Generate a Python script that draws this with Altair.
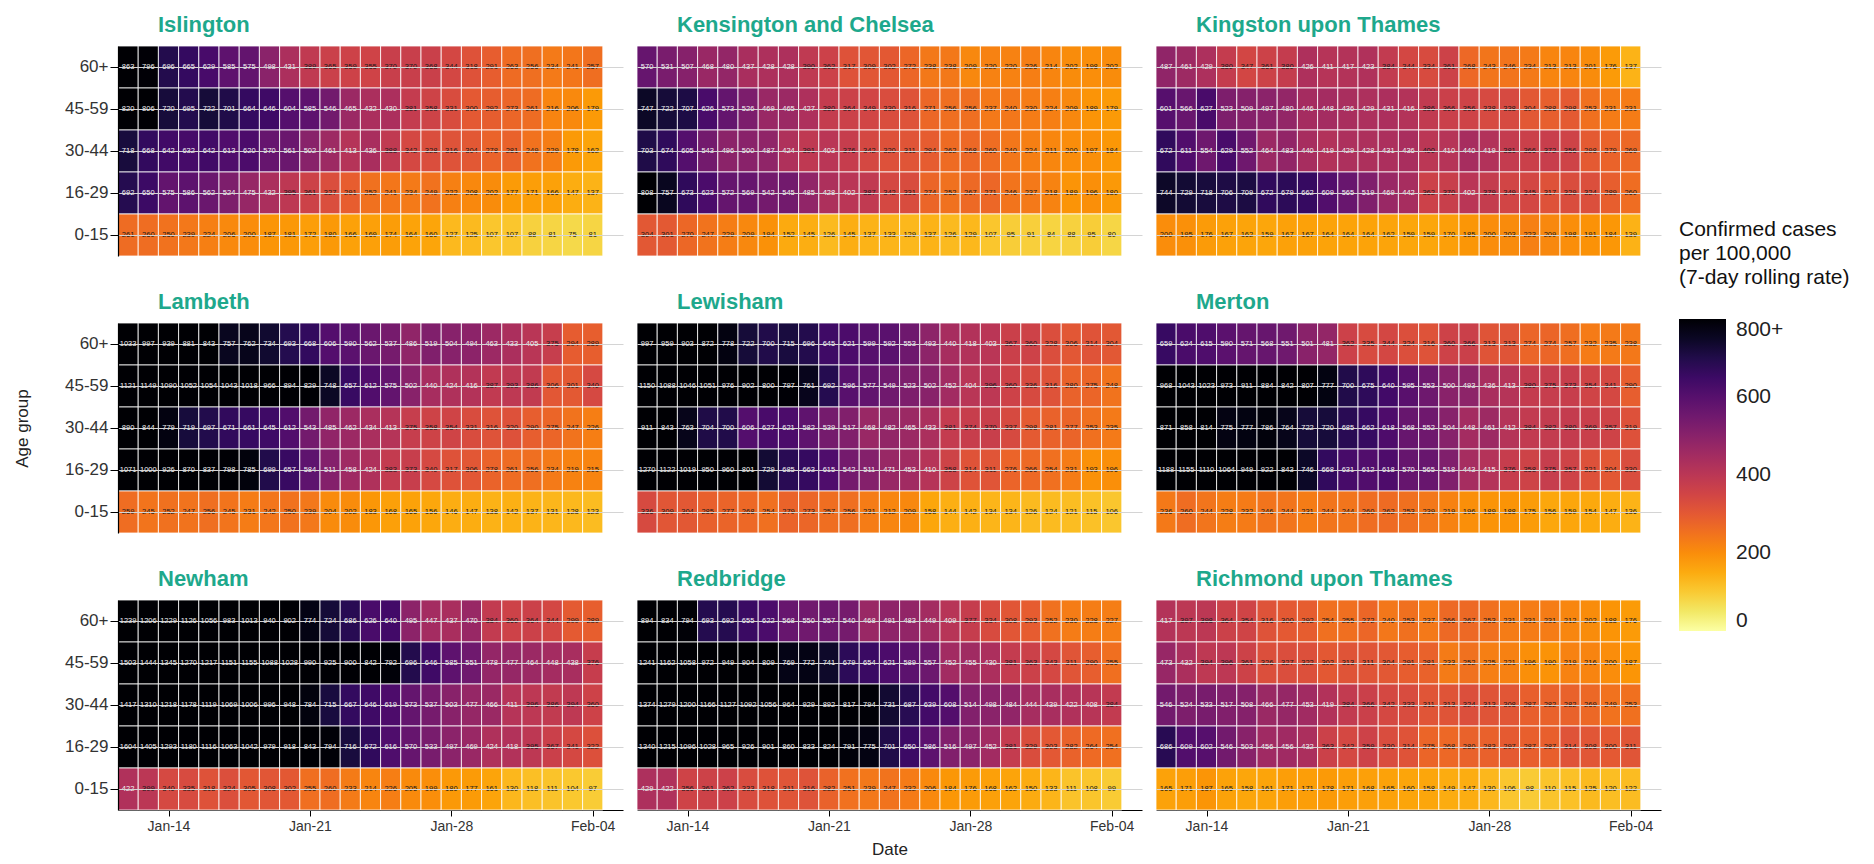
import altair as alt
import pandas as pd

AGES = ["60+", "45-59", "30-44", "16-29", "0-15"]
BOROUGHS = ["Islington", "Kensington and Chelsea", "Kingston upon Thames",
            "Lambeth", "Lewisham", "Merton",
            "Newham", "Redbridge", "Richmond upon Thames"]
DATES = pd.date_range("2021-01-12", "2021-02-04", freq="D")
TICKS = [(2021, 1, 14), (2021, 1, 21), (2021, 1, 28), (2021, 2, 4)]
LEGEND_VALUES = [0, 200, 400, 600, 800]

islington = [
    [863, 796, 696, 665, 629, 585, 575, 498, 431, 389, 365, 359, 355, 370, 370, 368, 344, 318, 291, 263, 256, 234, 241, 257],
    [820, 806, 720, 695, 722, 701, 664, 646, 604, 585, 546, 465, 432, 430, 381, 358, 331, 300, 292, 273, 261, 216, 206, 179],
    [718, 668, 642, 632, 642, 613, 620, 570, 561, 502, 461, 413, 436, 388, 342, 328, 316, 304, 278, 281, 249, 229, 178, 162],
    [692, 650, 575, 586, 562, 524, 475, 432, 395, 361, 327, 291, 252, 241, 234, 249, 222, 208, 202, 177, 171, 166, 147, 137],
    [261, 260, 250, 239, 224, 206, 200, 187, 181, 172, 180, 166, 169, 174, 164, 160, 127, 125, 107, 107, 88, 81, 75, 81],
]
kensington = [
    [570, 531, 507, 468, 480, 437, 428, 428, 390, 362, 317, 309, 302, 272, 238, 238, 209, 220, 220, 226, 214, 202, 198, 202],
    [747, 722, 707, 626, 573, 526, 469, 465, 427, 380, 364, 349, 330, 316, 271, 256, 256, 237, 240, 230, 224, 209, 189, 179],
    [703, 674, 605, 543, 496, 500, 487, 424, 391, 403, 376, 342, 320, 311, 294, 262, 268, 260, 240, 224, 211, 200, 197, 184],
    [808, 757, 673, 623, 572, 569, 542, 545, 485, 428, 402, 387, 342, 331, 274, 252, 267, 271, 246, 237, 218, 189, 196, 180],
    [304, 301, 270, 247, 229, 209, 194, 152, 145, 126, 145, 137, 133, 129, 137, 126, 129, 107, 95, 91, 84, 88, 95, 80],
]
kingston = [
    [487, 461, 429, 380, 347, 361, 380, 426, 411, 417, 423, 384, 344, 334, 361, 268, 243, 246, 234, 213, 213, 201, 176, 137],
    [601, 566, 627, 523, 509, 497, 480, 446, 448, 436, 429, 431, 416, 386, 366, 356, 338, 338, 304, 288, 298, 253, 231, 231],
    [672, 611, 554, 629, 552, 464, 483, 440, 419, 429, 428, 431, 436, 400, 410, 440, 419, 381, 366, 372, 356, 298, 279, 269],
    [744, 729, 718, 706, 709, 672, 679, 662, 609, 565, 519, 469, 442, 362, 370, 402, 379, 349, 345, 317, 329, 324, 289, 260],
    [200, 195, 176, 167, 162, 159, 167, 167, 164, 164, 164, 162, 159, 159, 170, 185, 200, 203, 223, 209, 198, 191, 184, 139],
]
lambeth = [
    [1033, 997, 939, 881, 843, 757, 762, 734, 693, 668, 606, 590, 562, 537, 486, 519, 504, 494, 463, 433, 405, 375, 294, 289],
    [1121, 1149, 1090, 1052, 1054, 1043, 1018, 966, 894, 829, 748, 657, 612, 575, 502, 440, 424, 416, 387, 393, 386, 306, 301, 340],
    [890, 844, 779, 719, 697, 671, 661, 645, 612, 543, 485, 462, 434, 413, 375, 358, 354, 331, 316, 320, 290, 275, 247, 226],
    [1071, 1000, 926, 870, 837, 798, 785, 699, 657, 584, 511, 458, 424, 383, 373, 340, 317, 306, 278, 261, 256, 234, 219, 215],
    [259, 245, 252, 247, 256, 245, 231, 242, 250, 239, 204, 202, 183, 168, 165, 156, 146, 147, 138, 142, 137, 131, 128, 123],
]
lewisham = [
    [997, 959, 903, 872, 778, 722, 700, 715, 696, 645, 621, 599, 592, 553, 493, 440, 418, 403, 367, 360, 328, 306, 314, 304],
    [1150, 1088, 1046, 1051, 976, 902, 800, 797, 761, 692, 596, 577, 549, 523, 502, 452, 404, 396, 360, 336, 316, 280, 275, 248],
    [911, 843, 763, 704, 700, 606, 627, 621, 582, 539, 517, 468, 482, 465, 433, 381, 374, 370, 337, 298, 281, 277, 253, 235],
    [1270, 1122, 1019, 950, 960, 801, 729, 685, 663, 615, 542, 511, 471, 453, 410, 358, 314, 311, 276, 266, 254, 231, 193, 196],
    [336, 309, 304, 285, 277, 268, 254, 279, 273, 257, 256, 231, 212, 209, 158, 144, 142, 134, 134, 126, 124, 121, 115, 106],
]
merton = [
    [659, 624, 615, 590, 571, 568, 551, 501, 481, 362, 335, 344, 324, 316, 360, 366, 313, 313, 274, 274, 257, 232, 235, 238],
    [968, 1043, 1023, 973, 911, 884, 842, 807, 777, 700, 675, 640, 595, 553, 500, 493, 436, 413, 380, 375, 373, 354, 341, 290],
    [871, 858, 814, 775, 777, 786, 764, 722, 720, 685, 662, 618, 568, 552, 504, 448, 461, 412, 384, 382, 380, 369, 357, 319],
    [1188, 1155, 1110, 1064, 949, 922, 843, 746, 668, 631, 612, 618, 570, 565, 518, 443, 415, 376, 358, 375, 357, 321, 304, 330],
    [236, 260, 244, 228, 232, 246, 244, 231, 244, 244, 260, 262, 253, 239, 219, 196, 189, 188, 175, 156, 159, 154, 147, 136],
]
newham = [
    [1239, 1206, 1229, 1126, 1056, 983, 1013, 940, 902, 774, 724, 686, 626, 640, 495, 447, 437, 470, 384, 360, 364, 344, 299, 289],
    [1503, 1444, 1345, 1270, 1217, 1151, 1155, 1088, 1028, 990, 925, 900, 842, 792, 696, 646, 585, 551, 478, 477, 464, 448, 438, 376],
    [1417, 1310, 1218, 1178, 1119, 1069, 1006, 996, 948, 784, 715, 667, 646, 619, 573, 537, 503, 477, 466, 411, 396, 386, 394, 360],
    [1604, 1405, 1293, 1180, 1116, 1063, 1042, 979, 918, 843, 794, 716, 672, 616, 570, 533, 497, 469, 424, 418, 395, 367, 341, 322],
    [422, 399, 340, 335, 318, 324, 305, 308, 302, 255, 260, 233, 214, 226, 205, 199, 180, 177, 161, 130, 118, 111, 104, 97],
]
redbridge = [
    [894, 834, 794, 693, 692, 655, 622, 568, 550, 557, 540, 468, 491, 483, 449, 409, 377, 334, 308, 293, 252, 230, 228, 227],
    [1241, 1162, 1058, 972, 949, 904, 809, 769, 772, 741, 679, 654, 621, 589, 557, 452, 455, 430, 381, 363, 343, 311, 290, 255],
    [1374, 1279, 1200, 1166, 1127, 1092, 1056, 964, 929, 892, 817, 794, 731, 687, 639, 608, 514, 498, 484, 444, 439, 422, 408, 384],
    [1340, 1215, 1096, 1028, 965, 926, 901, 860, 833, 824, 791, 775, 701, 650, 586, 516, 497, 452, 381, 329, 303, 282, 264, 254],
    [429, 422, 356, 361, 362, 333, 318, 311, 316, 282, 251, 239, 247, 232, 206, 184, 176, 168, 162, 150, 133, 111, 108, 99],
]
richmond = [
    [417, 397, 398, 364, 354, 316, 300, 292, 254, 255, 272, 240, 253, 237, 266, 267, 253, 231, 231, 231, 212, 202, 188, 176],
    [473, 432, 394, 396, 361, 326, 327, 322, 302, 313, 311, 304, 291, 281, 233, 252, 225, 221, 196, 190, 219, 216, 200, 187],
    [546, 524, 533, 517, 508, 466, 477, 453, 419, 384, 366, 342, 333, 311, 313, 324, 313, 308, 287, 282, 282, 269, 249, 253],
    [686, 609, 602, 546, 503, 456, 456, 432, 363, 342, 359, 330, 314, 275, 268, 280, 283, 297, 287, 287, 314, 308, 300, 311],
    [165, 171, 187, 165, 158, 161, 171, 171, 178, 171, 168, 165, 160, 158, 149, 147, 130, 106, 98, 110, 115, 125, 120, 122],
]

PANELS = [islington, kensington, kingston, lambeth, lewisham, merton, newham, redbridge, richmond]

TEAL = "#1ea88c"
FONT = "Liberation Sans"
FMT = "%Y-%m-%dT%H:%M:%S"


def frame(rows):
    recs = []
    for age, vals in zip(AGES, rows):
        for d, v in zip(DATES, vals):
            recs.append({
                "age": age,
                "date": d.strftime(FMT),
                "start": (d - pd.Timedelta(hours=12)).strftime(FMT),
                "end": (d + pd.Timedelta(hours=12)).strftime(FMT),
                "value": v,
            })
    return pd.DataFrame(recs)


x_scale = alt.Scale(domain=[alt.DateTime(year=2021, month=1, date=11, hours=12),
                            alt.DateTime(year=2021, month=2, date=5, hours=12)])
y_scale = alt.Scale(domain=AGES, paddingInner=0, paddingOuter=0)
c_scale = alt.Scale(scheme="inferno", reverse=True, domain=[0, 800], clamp=True)

legend = alt.Legend(
    title=["Confirmed cases", "\u00a0per 100,000", "\u00a0(7-day rolling rate)"],
    orient="none", legendX=1561, legendY=173, direction="vertical",
    gradientLength=312, gradientThickness=47,
    values=LEGEND_VALUES,
    labelExpr="datum.value >= 800 ? '800+' : datum.label",
    labelFontSize=21, labelFont=FONT, labelColor="#222222", labelOffset=10,
    labelBaseline="middle",
    titleFontSize=21, titleFont=FONT, titleFontWeight="normal", titleColor="#111111",
    titleLimit=400, titleLineHeight=24, titlePadding=31, titleAnchor="start",
    gradientStrokeWidth=0,
)

charts = []
for i, (name, rows) in enumerate(zip(BOROUGHS, PANELS)):
    row, col = divmod(i, 3)
    df = frame(rows)
    if row == 2:
        x_axis = alt.Axis(
            values=[alt.DateTime(year=y, month=m, date=d) for (y, m, d) in TICKS],
            format="%b-%d", labelFontSize=14, labelFont=FONT, labelColor="#333333",
            tickSize=6, tickColor="black", domainColor="black", domainWidth=1.2,
            grid=False, labelPadding=3, title="Date",
            titleFontSize=17, titleFont=FONT, titleFontWeight="normal",
            titleColor="#222222", titlePadding=8,
            titleOpacity=1 if col == 1 else 0,
        )
    else:
        x_axis = None
    if col == 0:
        y_axis = alt.Axis(
            title="Age group", titleOpacity=1 if row == 1 else 0,
            titleFontSize=17, titleFont=FONT, titleFontWeight="normal",
            titleColor="#222222", titlePadding=33,
            labelFontSize=17, labelFont=FONT, labelColor="#333333", labelPadding=2,
            tickSize=8, tickColor="black", domainColor="black", domainWidth=1.2,
            grid=True, gridColor="#d4d4d4", bandPosition=0.5,
        )
    else:
        y_axis = alt.Axis(title=None, labels=False, ticks=False, domain=False,
                          grid=True, gridColor="#d4d4d4", bandPosition=0.5)

    base = alt.Chart(df)
    rect = base.mark_rect(stroke="white", strokeWidth=0.8).encode(
        x=alt.X("start:T", scale=x_scale, axis=x_axis, title="Date"),
        x2="end:T",
        y=alt.Y("age:N", scale=y_scale, axis=y_axis, title="Age group"),
        color=alt.Color("value:Q", scale=c_scale, legend=legend),
    )
    text = base.mark_text(fontSize=7.5, font=FONT).encode(
        x=alt.X("date:T", scale=x_scale, axis=x_axis, title="Date"),
        y=alt.Y("age:N", scale=y_scale, axis=y_axis, title="Age group"),
        text=alt.Text("value:Q", format="d"),
        color=alt.condition("datum.value > 400", alt.value("#f4f4f4"), alt.value("#1a1a1a")),
    )
    chart = alt.layer(rect, text).properties(
        width=505, height=210,
        title=alt.TitleParams(text=name, anchor="start", frame="group", dx=40,
                              fontSize=22, fontWeight="bold", color=TEAL,
                              font=FONT, offset=9),
    )
    charts.append(chart)

chart = alt.concat(*charts, columns=3, spacing={"row": 33, "column": 13}).configure(
    font=FONT, background="white"
).configure_view(stroke=None)

chart.save("out.html", embed_options={"renderer": "svg", "actions": False})
